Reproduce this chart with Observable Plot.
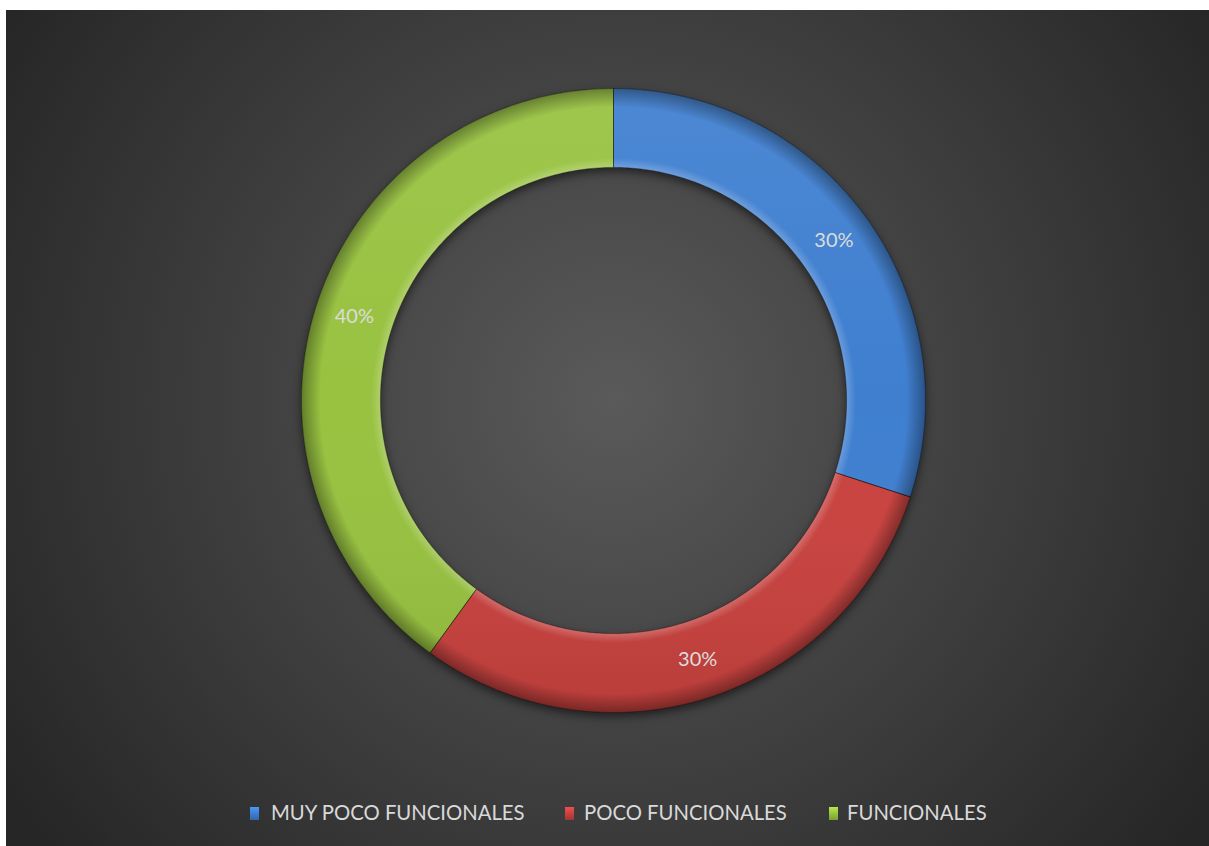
<!DOCTYPE html>
<html>
<head>
<meta charset="utf-8">
<script src="https://cdn.jsdelivr.net/npm/d3@7"></script>
<script src="https://cdn.jsdelivr.net/npm/@observablehq/plot@0.6"></script>
<style>
  html, body { margin: 0; padding: 0; background: #ffffff; }
  #frame {
    position: absolute; left: 6px; top: 10px; width: 1203px; height: 836px;
    background: radial-gradient(circle 720px at 607px 390px, #5a5a5a 0%, #262626 100%);
    overflow: hidden;
    font-family: Lato, "Open Sans", sans-serif;
  }
  #chart { position: absolute; left: 0; top: 0; }
  #legend { position: absolute; left: 0; top: 776px; width: 1203px; height: 60px; }
  .item { position: absolute; top: 14px; font-size: 20.3px; line-height: 24px; color: #d9d9d9; white-space: nowrap; }
  .swatch { position: absolute; top: 21px; width: 9px; height: 13px; }
</style>
</head>
<body>
<div id="frame">
  <div id="chart"></div>
  <div id="legend"></div>
</div>
<script>
// ---- data ----
const categories = ["MUY POCO FUNCIONALES", "POCO FUNCIONALES", "FUNCIONALES"];
const values = [30, 30, 40];
const labels = ["30%", "30%", "40%"];
const colors = ["#3f7fd0", "#c9423f", "#98c240"];

// ---- geometry derived from the data ----
const INNER = 0.747;   // inner radius relative to outer
const data = categories.map((c, i) => ({category: c, value: values[i], label: labels[i]}));
const arcs = d3.pie().sort(null).value(d => d.value)(data);

const poly = [];
arcs.forEach(a => {
  const n = 160;
  for (let k = 0; k <= n; k++) {
    const t = a.startAngle + (a.endAngle - a.startAngle) * k / n;
    poly.push({category: a.data.category, x: Math.sin(t), y: Math.cos(t)});
  }
  for (let k = n; k >= 0; k--) {
    const t = a.startAngle + (a.endAngle - a.startAngle) * k / n;
    poly.push({category: a.data.category, x: INNER * Math.sin(t), y: INNER * Math.cos(t)});
  }
  poly.push({category: a.data.category, x: Math.sin(a.startAngle), y: Math.cos(a.startAngle)});
});

const mid = (1 + INNER) / 2;
const labelPts = arcs.map(a => {
  const t = (a.startAngle + a.endAngle) / 2;
  return {label: a.data.label, x: mid * Math.sin(t), y: mid * Math.cos(t)};
});

const W = 1203, H = 776;
const plot = Plot.plot({
  width: W,
  height: H,
  marginLeft: 295,
  marginRight: 284,
  marginTop: 78,
  marginBottom: H - 702,
  x: {domain: [-1, 1], axis: null},
  y: {domain: [-1, 1], axis: null},
  color: {type: "ordinal", domain: categories, range: colors},
  style: {background: "transparent", overflow: "visible"},
  marks: [
    Plot.line(poly, {x: "x", y: "y", z: "category", fill: "category", stroke: "none", curve: "linear"}),
    Plot.line(poly, {x: "x", y: "y", z: "category", fill: "url(#vshade)", stroke: "none", curve: "linear"}),
    Plot.line(poly, {x: "x", y: "y", z: "category", fill: "url(#bevel)", stroke: "rgba(0,0,0,0.35)", strokeWidth: 1, curve: "linear"}),
    Plot.text(labelPts, {x: "x", y: "y", text: "label", fill: "#dcdcdc", fontSize: 20, fontFamily: "Lato, 'Open Sans', sans-serif"})
  ]
});

// gradients / shading defs
const xs = plot.scale("x"), ys = plot.scale("y");
const cx = xs.apply(0), cy = ys.apply(0), R = xs.apply(1) - xs.apply(0);
const svg = d3.select(plot);
const defs = svg.insert("defs", ":first-child");
const rg = defs.append("radialGradient").attr("id", "bevel")
  .attr("gradientUnits", "userSpaceOnUse").attr("cx", cx).attr("cy", cy).attr("r", R);
[[0, "#ffffff", 0], [INNER, "#ffffff", 0.22], [INNER + 0.03, "#ffffff", 0], [0.94, "#000000", 0], [1, "#000000", 0.35]]
  .forEach(([o, c, op]) => rg.append("stop").attr("offset", o).attr("stop-color", c).attr("stop-opacity", op));
const lg = defs.append("linearGradient").attr("id", "vshade")
  .attr("gradientUnits", "userSpaceOnUse").attr("x1", cx).attr("x2", cx).attr("y1", cy - R).attr("y2", cy + R);
[[0, "#ffffff", 0.07], [0.5, "#ffffff", 0], [1, "#000000", 0.08]]
  .forEach(([o, c, op]) => lg.append("stop").attr("offset", o).attr("stop-color", c).attr("stop-opacity", op));
const firstLine = plot.querySelector('g[aria-label="line"]');
if (firstLine) firstLine.style.filter = "drop-shadow(0px 4px 5px rgba(0,0,0,0.55))";

document.getElementById("chart").appendChild(plot);

// legend
const legend = document.getElementById("legend");
const swatchX = [244, 559, 823];
const textX = [265, 578, 841];
categories.forEach((c, i) => {
  const s = document.createElement("div");
  s.className = "swatch";
  s.style.left = swatchX[i] + "px";
  s.style.background = `linear-gradient(180deg, ${d3.color(colors[i]).brighter(0.5)} 0%, ${colors[i]} 50%, ${d3.color(colors[i]).darker(0.6)} 100%)`;
  legend.appendChild(s);
  const t = document.createElement("div");
  t.className = "item";
  t.style.left = textX[i] + "px";
  t.textContent = c;
  legend.appendChild(t);
});
</script>
</body>
</html>
